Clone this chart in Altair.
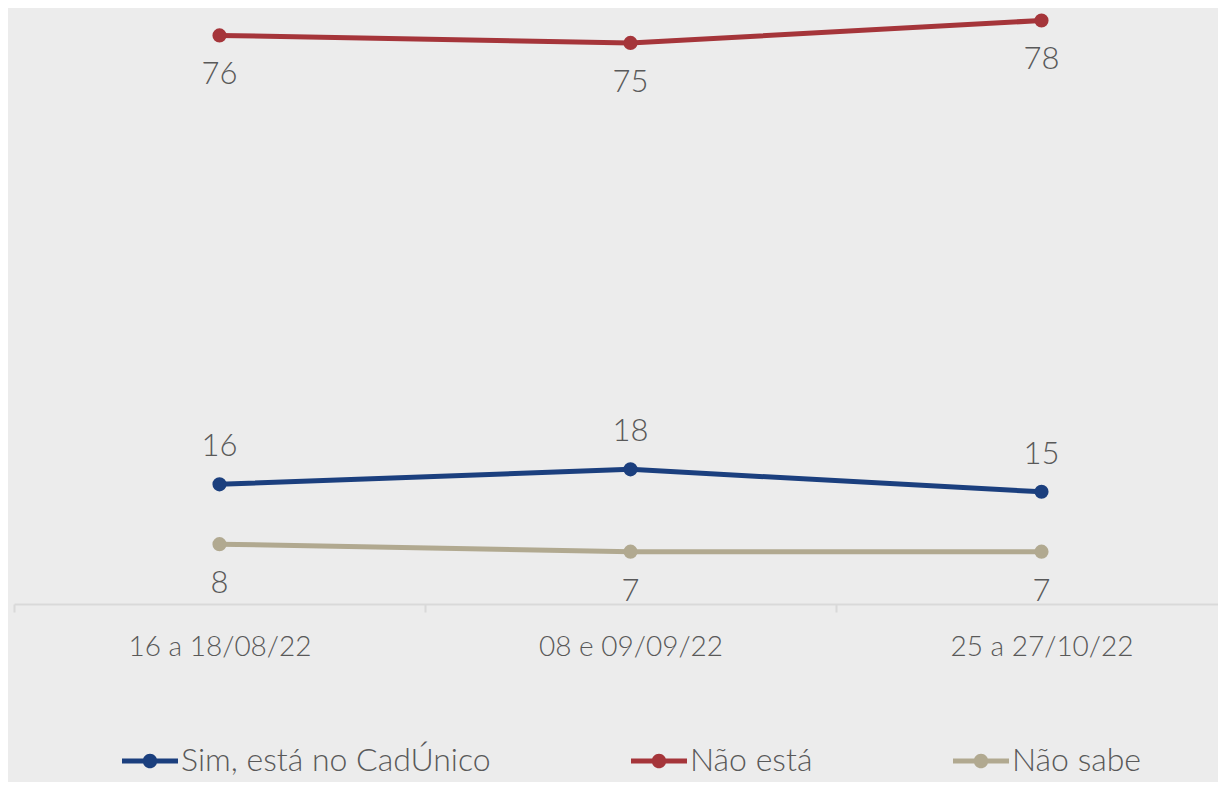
import altair as alt
import pandas as pd

periods = ["16 a 18/08/22", "08 e 09/09/22", "25 a 27/10/22"]
series_names = ["Sim, está no CadÚnico", "Não está", "Não sabe"]
sim_values = [16, 18, 15]
nao_values = [76, 75, 78]
nao_sabe_values = [8, 7, 7]
colors = ["#1B3F7E", "#A5353A", "#B1A990"]
label_dy = [-37, 40, 40]

FONT = "Lato"
WEIGHT = 300
TEXT_COLOR = "#595959"

rows = []
for name, vals in zip(series_names, [sim_values, nao_values, nao_sabe_values]):
    for p, v in zip(periods, vals):
        rows.append({"period": p, "series": name, "value": v})
df = pd.DataFrame(rows)

x = alt.X(
    "period:N",
    sort=periods,
    bandPosition=0.5,
    scale=alt.Scale(type="band", range=[0, 1233], paddingInner=0, paddingOuter=0),
    axis=alt.Axis(
        title=None, labelAngle=0, tickBand="extent", grid=False,
        domainColor="#D9D9D9", domainWidth=2, tickColor="#D9D9D9", tickWidth=2,
        tickSize=8, labelPadding=21, labelFontSize=28, labelColor=TEXT_COLOR,
        labelFont=FONT, labelFontWeight=WEIGHT, labelLimit=0,
    ),
)
y = alt.Y("value:Q", scale=alt.Scale(domain=[0, 79], nice=False, zero=True), axis=None)
color_scale = alt.Scale(domain=series_names, range=colors)

legend_path = ("M-1,-0.09H1V0.09H-1Z "
               "M0.26,0A0.26,0.26 0 1,1 -0.26,0A0.26,0.26 0 1,1 0.26,0Z")

legend = alt.Legend(
    orient="none", legendX=108, legendY=720, direction="horizontal",
    title=None, symbolType=legend_path, symbolSize=3136,
    symbolStrokeWidth=0, labelFontSize=32, labelColor=TEXT_COLOR,
    labelFont=FONT, labelFontWeight=WEIGHT, labelOffset=3, labelLimit=0,
    columnPadding=140, padding=0, symbolOpacity=1,
)
color = alt.Color("series:N", scale=color_scale, legend=legend)

base = alt.Chart(df)

lines = base.mark_line(strokeWidth=5).encode(x=x, y=y, color=color)
points = base.mark_point(filled=True, size=200, opacity=1).encode(x=x, y=y, color=color)

texts = []
for name, dy in zip(series_names, label_dy):
    texts.append(
        base.transform_filter(alt.datum.series == name)
        .mark_text(dy=dy, fontSize=31, color=TEXT_COLOR, font=FONT, fontWeight=WEIGHT)
        .encode(x=x, y=y, text="value:Q")
    )

chart = alt.layer(lines, points, *texts).properties(
    width=1204, height=591,
    autosize=alt.AutoSizeParams(type="none"),
    padding={"left": 6, "top": 5, "right": 0, "bottom": 178},
    background="#ECECEC",
).configure_view(stroke=None)

chart.save("out.html", embed_options={"renderer": "svg", "actions": False})
